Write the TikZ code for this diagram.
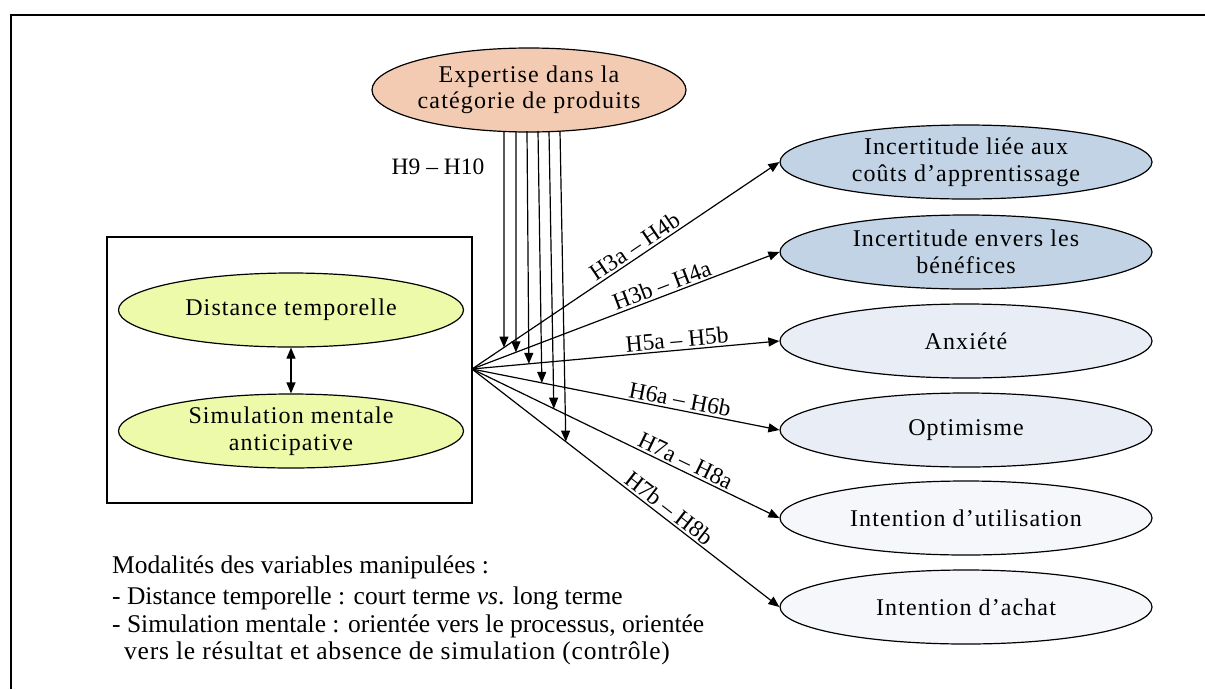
\documentclass[tikz,border=0pt]{standalone}
\usepackage{fontspec}
\setmainfont{Liberation Serif}
\usetikzlibrary{shapes.geometric,arrows.meta,calc}
\definecolor{peach}{RGB}{242,203,178}
\definecolor{steel}{RGB}{193,211,229}
\definecolor{pale}{RGB}{233,238,246}
\definecolor{paler}{RGB}{245,247,251}
\definecolor{lime}{RGB}{236,250,170}
\tikzset{
  ell/.style={ellipse, draw, line width=1.2pt, inner sep=0pt},
  rell/.style={ell, minimum width=372pt, minimum height=74pt},
  gell/.style={ell, fill=lime, minimum width=345pt, minimum height=74pt},
  arr/.style={-{Triangle[length=11pt,width=9pt]}, line width=1.2pt},
  darr/.style={{Triangle[length=11pt,width=9pt]}-{Triangle[length=11pt,width=9pt]}, line width=1.2pt},
  lbl/.style={sloped, above, inner sep=2pt},
  txt/.style={align=center, inner sep=0pt, font=\fontsize{24}{27}\selectfont\addfontfeature{LetterSpace=4.6}},
  xtxt/.style={align=center, inner sep=0pt, font=\fontsize{24}{26}\selectfont\addfontfeature{LetterSpace=5}},
  btxt/.style={anchor=west, inner sep=0pt, font=\fontsize{25.5}{30}\selectfont}
}
\begin{document}
\begin{tikzpicture}[x=1pt,y=-1pt,font=\fontsize{23.5}{27}\selectfont]
\useasboundingbox (0,0) rectangle (1205,689);
% outer frame
\draw[line width=1.8pt] (11,689) -- (11,15) -- (1205,15);

% left box
\node[draw, line width=1.2pt, minimum width=365pt, minimum height=266pt, inner sep=0pt] (box) at (289.5,370) {};
\node[gell] (d1) at (291,310) {};
\node[txt] at (d1) {Distance temporelle};
\node[gell] (d2) at (291,431) {};
\node[txt] at (d2) {Simulation mentale\\anticipative};
\draw[darr] (d1.south) -- (d2.north);

% expertise
\node[ell, fill=peach, minimum width=314pt, minimum height=84pt] (exp) at (529,90) {};
\node[xtxt] at (exp) {Expertise dans la\\catégorie de produits};

% right ellipses
\node[rell, fill=steel] (e1) at (966,162) {};
\node[txt] at (e1) {Incertitude liée aux\\coûts d’apprentissage};
\node[rell, fill=steel] (e2) at (966,252) {};
\node[txt] at (e2) {Incertitude envers les\\bénéfices};
\node[rell, fill=pale] (e3) at (966,341) {};
\node[txt] at (e3) {Anxiété};
\node[rell, fill=pale] (e4) at (966,430) {};
\node[txt] at (e4) {Optimisme};
\node[rell, fill=paler] (e5) at (966,518) {};
\node[txt] at (e5) {Intention d’utilisation};
\node[rell, fill=paler] (e6) at (966,607) {};
\node[txt] at (e6) {Intention d’achat};

% hub
\coordinate (hub) at (472,369);
\draw[arr] (hub) -- node[lbl, pos=0.55] {H3a – H4b} (e1.west);
\draw[arr] (hub) -- node[lbl, pos=0.63] {H3b – H4a} (e2.west);
\draw[arr] (hub) -- node[lbl, pos=0.67] {H5a – H5b} (e3.west);
\draw[arr] (hub) -- node[lbl, pos=0.67] {H6a – H6b} (e4.west);
\draw[arr] (hub) -- node[lbl, pos=0.68] {H7a – H8a} (e5.west);
\draw[arr] (hub) -- node[lbl, pos=0.62] {H7b – H8b} (e6.west);

% moderating arrows
\coordinate (s1) at (504,131);
\coordinate (s2) at (516,131);
\coordinate (s3) at (527,131);
\coordinate (s4) at (538,131);
\coordinate (s5) at (549,131);
\coordinate (s6) at (560,131);
\coordinate (t1) at ($(hub)!{32/308}!(e1.west)$);
\coordinate (t2) at ($(hub)!{44/308}!(e2.west)$);
\coordinate (t3) at ($(hub)!{57/308}!(e3.west)$);
\coordinate (t4) at ($(hub)!{70/308}!(e4.west)$);
\coordinate (t5) at ($(hub)!{82/308}!(e5.west)$);
\coordinate (t6) at ($(hub)!{94/308}!(e6.west)$);
\foreach \i in {1,...,6} {\draw[arr] (s\i) -- (t\i);}
\node (h9) at (438,167) {H9 – H10};

% bottom text
\node[btxt] (m0) at (112,567) {Modalités des variables manipulées :};
\node[btxt] (m1) at (112,598) {- Distance temporelle : court terme \textit{vs}. long terme};
\node[btxt] (m2) at (112,626) {- Simulation mentale : orientée vers le processus, orientée};
\node[btxt, font=\fontsize{25.5}{30}\selectfont\addfontfeature{LetterSpace=3}] (m3) at (124,653) {vers le résultat et absence de simulation (contrôle)};
\end{tikzpicture}
\end{document}
